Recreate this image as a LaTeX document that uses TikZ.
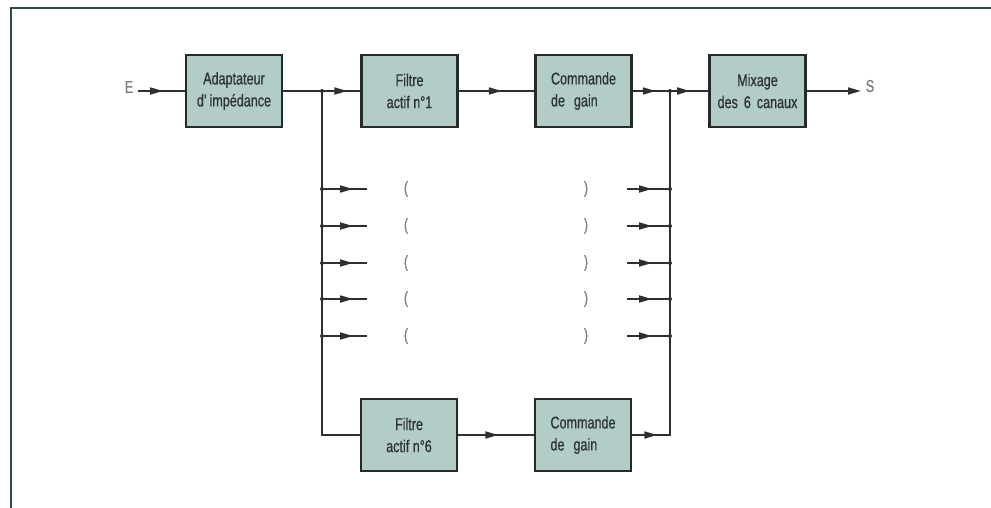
\documentclass[tikz,border=0pt]{standalone}
\usepackage{fontspec}
\setmainfont{Liberation Sans}[FakeStretch=0.74,FakeBold=0.6]
\usetikzlibrary{arrows.meta,decorations.markings}
\definecolor{boxfill}{HTML}{B2CCC8}
\definecolor{boxline}{HTML}{262A2A}
\definecolor{wire}{HTML}{2E3030}
\definecolor{frame}{HTML}{2E4A4C}
\definecolor{txt}{HTML}{2E3232}
\tikzset{
  blk/.style={draw=boxline,fill=boxfill,line width=2.6pt,minimum width=96pt,minimum height=72pt,inner sep=0pt,
    font=\fontsize{17}{22}\selectfont,text=txt,align=center},
  wireline/.style={draw=wire,line width=1.8pt},
  arrowat/.style={postaction={decorate,decoration={markings,mark=at position #1 with {\arrow[wire]{Triangle[length=13pt,width=7pt]}}}}},
  tipend/.style={-{Triangle[length=13pt,width=7pt]}},
  lbl/.style={font=\fontsize{17}{17}\selectfont,text=txt!65,inner sep=0pt},
  paren/.style={font=\fontsize{17}{17}\selectfont,text=txt!60,inner sep=0pt},
  jdot/.style={circle,fill=wire,inner sep=0pt,minimum size=4pt}
}
\begin{document}
\begin{tikzpicture}[x=1pt,y=-1pt]
\useasboundingbox (0,0) rectangle (991,507);
\fill[white] (0,0) rectangle (991,507);
% frame
\draw[frame,line width=2.6pt] (11,509) -- (11,8) -- (993,8);

% blocks
\node[blk] (ad) at (234,91) {Adaptateur\\d'\,impédance};
\node[blk] (f1) at (409.5,91) {Filtre\\actif n°1};
\node[blk,align=left] (c1) at (583.5,91) {Commande\\de\hspace{9pt}gain};
\node[blk] (mx) at (757.5,91) {Mixage\\des\hspace{6pt}6\hspace{6pt}canaux};
\node[blk] (f6) at (409,435) {Filtre\\actif n°6};
\node[blk,align=left] (c6) at (583,435) {Commande\\de\hspace{9pt}gain};

% E and S
\node[lbl] (E) at (129,87) {E};
\node[lbl] (S) at (870,86) {S};
\coordinate (Ein) at (138,91);
\coordinate (Sout) at (861,91);

% junctions
\coordinate (jl) at (322,91);
\coordinate (jr) at (670,91);
\coordinate (bl) at (322,435);
\coordinate (br) at (670,435);

% main path
\draw[wireline,arrowat=25pt] (Ein) -- (ad.west);
\draw[wireline,arrowat=64pt] (ad.east) -- (jl) -- (f1.west);
\draw[wireline,arrowat=43pt] (f1.east) -- (c1.west);
\draw[wireline,arrowat=23pt] (c1.east) -- (jr);
\draw[wireline,arrowat=20pt] (jr) -- (mx.west);
\draw[wireline,tipend] (mx.east) -- (Sout);

% verticals
\draw[wireline] (jl) -- (bl) -- (f6.west);
\draw[wireline,arrowat=40pt] (f6.east) -- (c6.west);
\draw[wireline,arrowat=25pt] (c6.east) -- (br) -- (jr);

\node[jdot] (djl) at (jl) {};
\node[jdot] (djr) at (jr) {};

% intermediate channels
\foreach \i/\y in {1/189,2/226,3/263,4/299,5/336}{
  \coordinate (L\i) at (322,\y);
  \coordinate (Le\i) at (367,\y);
  \coordinate (Rs\i) at (627,\y);
  \coordinate (R\i) at (670,\y);
  \draw[wireline,arrowat=31pt] (L\i) -- (Le\i);
  \draw[wireline,arrowat=25pt] (Rs\i) -- (R\i);
  \node[jdot] (dl\i) at (L\i) {};
  \node[jdot] (dr\i) at (R\i) {};
  \node[paren] (pl\i) at (406,\y) {(};
  \node[paren] (pr\i) at (586,\y) {)};
}
\end{tikzpicture}
\end{document}
